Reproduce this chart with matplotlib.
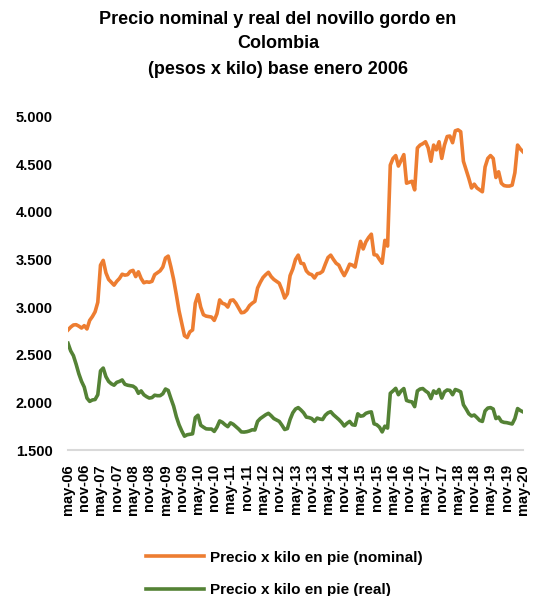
import matplotlib
matplotlib.use("Agg")
import matplotlib.pyplot as plt
import numpy as np
import pandas as pd

# Precio del novillo gordo, mensual may-06 a may-20 (pesos x kilo)
fechas = pd.date_range("2006-05-01", "2020-05-01", freq="MS")

nominal = [
    2760, 2790, 2812, 2815, 2800, 2780, 2805, 2770, 2860, 2900, 2950, 3050,
    3440, 3490, 3360, 3290, 3260, 3230, 3270, 3300, 3345, 3335, 3340, 3375,
    3385, 3320, 3370, 3300, 3255, 3265, 3260, 3270, 3340, 3360, 3380, 3420,
    3515, 3535, 3420, 3290, 3130, 2960, 2830, 2700, 2680, 2740, 2760, 3040,
    3130, 3000, 2920, 2905, 2900, 2895, 2860, 2930, 3075, 3040, 3030, 3000,
    3070, 3075, 3040, 2990, 2940, 2945, 2970, 3015, 3040, 3060, 3200, 3260,
    3310, 3340, 3365, 3320, 3290, 3270, 3250, 3180, 3095, 3140, 3330, 3400,
    3500, 3545, 3460, 3455, 3380, 3350, 3340, 3305, 3350, 3355, 3375, 3450,
    3520, 3545, 3500, 3460, 3440, 3380, 3330, 3385, 3450, 3440, 3420, 3560,
    3690, 3610, 3685, 3730, 3765, 3550, 3545, 3500, 3460, 3700, 3640, 4490,
    4560, 4590, 4480, 4540, 4600, 4300, 4310, 4320, 4230, 4670, 4700, 4715,
    4735, 4670, 4530, 4700, 4650, 4735, 4560, 4700, 4790, 4795, 4725, 4850,
    4860, 4840, 4530, 4440, 4350, 4250, 4290, 4250, 4230, 4210, 4470, 4560,
    4590, 4560, 4360, 4420, 4300, 4275, 4270, 4270, 4280, 4410, 4700, 4660,
    4630,
]

real = [
    2620, 2540, 2490, 2400, 2300, 2220, 2160, 2045, 2010, 2025, 2030, 2080,
    2330, 2360, 2270, 2220, 2195, 2180, 2210, 2220, 2235, 2190, 2180, 2175,
    2170, 2150, 2095, 2120, 2080, 2060, 2045, 2050, 2075, 2070, 2070, 2090,
    2140, 2125, 2040, 1960, 1850, 1765, 1700, 1645, 1660, 1665, 1670, 1840,
    1865, 1760, 1740, 1722, 1720, 1720, 1695, 1740, 1805, 1790, 1765, 1745,
    1785, 1770, 1745, 1720, 1690, 1688, 1692, 1700, 1712, 1710, 1800, 1830,
    1850, 1870, 1885, 1860, 1830, 1815, 1800, 1760, 1715, 1725, 1820, 1890,
    1930, 1945, 1920, 1890, 1845, 1840, 1830, 1800, 1835, 1825, 1820, 1865,
    1890, 1902, 1870, 1845, 1820, 1790, 1752, 1780, 1800, 1765, 1760, 1880,
    1855, 1860, 1885, 1895, 1900, 1775, 1765, 1740, 1690, 1750, 1730, 2095,
    2120, 2147, 2080, 2120, 2145, 2020, 2010, 2005, 1955, 2120, 2140, 2145,
    2120, 2100, 2040, 2120, 2095, 2135, 2045, 2110, 2130, 2125, 2080, 2135,
    2125, 2110, 1975, 1930, 1880, 1857, 1867, 1840, 1810, 1800, 1910, 1940,
    1945, 1930, 1830, 1845, 1800, 1790, 1787, 1780, 1773, 1830, 1935, 1915,
    1900,
]

meses_es = {5: "may", 11: "nov"}
etiquetas = [f"{meses_es[d.month]}-{d.year % 100:02d}" for d in fechas[::6]]
yticks = [1500, 2000, 2500, 3000, 3500, 4000, 4500, 5000]

plt.rcParams["font.family"] = ["Liberation Sans", "DejaVu Sans"]
plt.rcParams["font.weight"] = "bold"

W, H = 538, 596
fig = plt.figure(figsize=(W / 100, H / 100), dpi=100)
ax = fig.add_axes([68 / W, (H - 450) / H, 455 / W, (450 - 116.5) / H])

x = np.arange(len(fechas))
ax.plot(x, nominal, color="#ED7D31", linewidth=2.6, label="Precio x kilo en pie (nominal)")
ax.plot(x, real, color="#548235", linewidth=2.6, label="Precio x kilo en pie (real)")

ax.set_xlim(0, len(fechas) - 1)
ax.set_ylim(1500, 5000)
ax.set_yticks(yticks)
ax.set_yticklabels([f"{v:,}".replace(",", ".") for v in yticks], fontsize=10.5, fontweight="bold")
ax.set_xticks(x[::6])
ax.set_xticklabels(etiquetas, rotation=90, fontsize=10.5, fontweight="bold")
ax.tick_params(axis="both", length=0)
ax.tick_params(axis="y", pad=11)
ax.tick_params(axis="x", pad=10)

for lado in ["top", "right", "left"]:
    ax.spines[lado].set_visible(False)
ax.spines["bottom"].set_color("#D9D9D9")
ax.spines["bottom"].set_linewidth(1.5)

# Titulo en tres lineas
fig.text(278 / W, 1 - 19 / H, "Precio nominal y real del novillo gordo en", ha="center", va="center",
         fontsize=13, fontweight="bold")
fig.text(278 / W, 1 - 44 / H, "Colombia", ha="center", va="center", fontsize=13, fontweight="bold")
fig.text(278 / W, 1 - 69 / H, "(pesos x kilo) base enero 2006", ha="center", va="center",
         fontsize=13, fontweight="bold")

fig.legend(loc="upper left", bbox_to_anchor=(132 / W, 1 - 537 / H), frameon=False,
           handlelength=3.8, handletextpad=0.4, labelspacing=1.2,
           prop={"weight": "bold", "size": 11})

fig.savefig("out.png", dpi=100)
